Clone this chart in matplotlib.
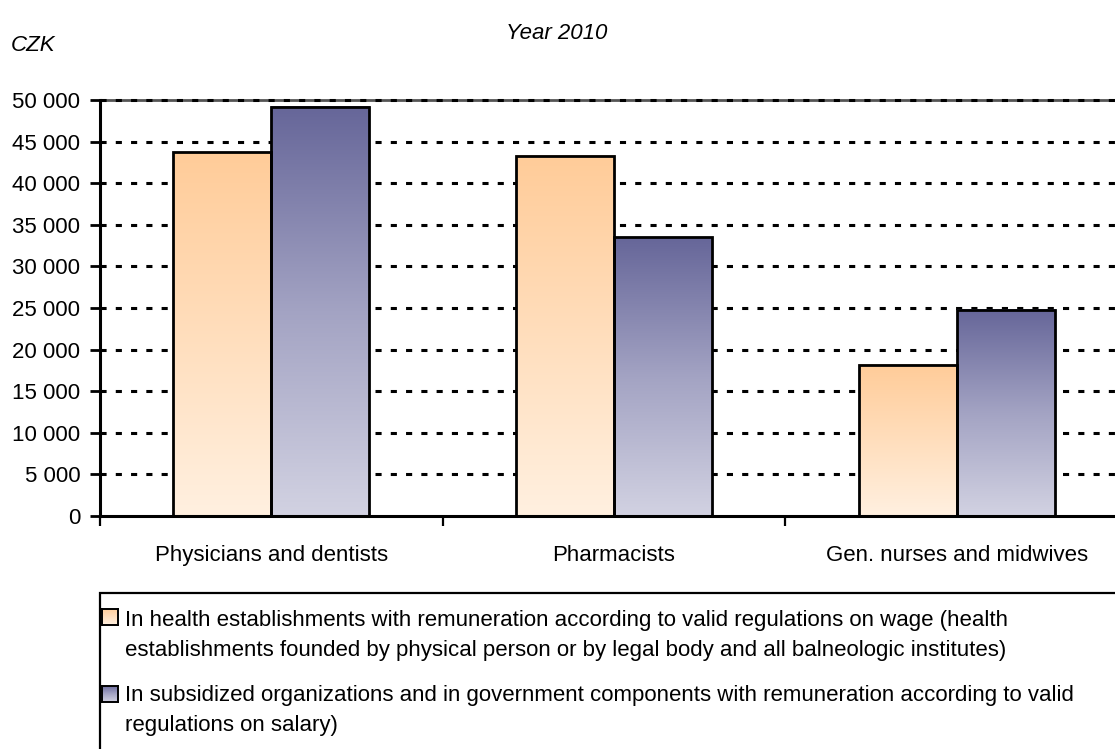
import numpy as np
import matplotlib
matplotlib.use("Agg")
import matplotlib.pyplot as plt
from matplotlib import font_manager
from matplotlib.colors import LinearSegmentedColormap
from matplotlib.patches import Rectangle

# the reference text is Arial stretched vertically; a narrow face at a larger size mimics it
names = {f.name for f in font_manager.fontManager.ttflist}
if "Liberation Sans Narrow" in names:
    plt.rcParams['font.family'] = ['Liberation Sans Narrow', 'DejaVu Sans']
    FS = 19.5
else:
    plt.rcParams['font.family'] = ['Liberation Sans', 'DejaVu Sans']
    FS = 16

# --- data ---
categories = ["Physicians and dentists", "Pharmacists", "Gen. nurses and midwives"]
wage_values = [43750, 43300, 18150]      # health establishments (wage regulations)
salary_values = [49200, 33500, 24800]    # subsidized orgs / government (salary regulations)
y_ticks = [0, 5000, 10000, 15000, 20000, 25000, 30000, 35000, 40000, 45000, 50000]
y_tick_labels = ["0", "5 000", "10 000", "15 000", "20 000", "25 000",
                 "30 000", "35 000", "40 000", "45 000", "50 000"]
legend_labels = [
    "In health establishments with remuneration according to valid regulations on wage (health\n"
    "establishments founded by physical person or by legal body and all balneologic institutes)",
    "In subsidized organizations and in government components with remuneration according to valid\n"
    "regulations on salary)",
]
title = "Year 2010"
unit = "CZK"

# --- styling ---
W, H = 1115, 749
orange_cmap = LinearSegmentedColormap.from_list("orange", ["#FFF0E0", "#FFCC99"])
purple_cmap = LinearSegmentedColormap.from_list("purple", ["#D2D2E2", "#A3A3C3", "#666699"])
grad = np.linspace(0, 1, 256).reshape(-1, 1)

fig = plt.figure(figsize=(W / 100, H / 100), dpi=100)
ax = fig.add_axes([100 / W, 1 - 516 / H, 1028 / W, 416 / H])

x = np.arange(len(categories))
bw = 0.286
bars_w = ax.bar(x - bw / 2, wage_values, bw, facecolor="none", edgecolor="black", lw=2, zorder=4)
bars_s = ax.bar(x + bw / 2, salary_values, bw, facecolor="none", edgecolor="black", lw=2, zorder=4)

for bars, cmap in [(bars_w, orange_cmap), (bars_s, purple_cmap)]:
    for p in bars:
        x0, h, w = p.get_x(), p.get_height(), p.get_width()
        ax.imshow(grad, extent=[x0, x0 + w, 0, h], origin="lower", aspect="auto",
                  cmap=cmap, zorder=3, interpolation="bilinear")

ax.set_xlim(-0.5, len(categories) - 0.5)
ax.set_ylim(0, 50000)

# grid lines
for yv in y_ticks[1:-1]:
    ax.axhline(yv, color="black", lw=2.2, ls=(0, (2, 3)), zorder=1)
ax.axhline(50000, color="#555555", lw=2.0, zorder=1, clip_on=False)
ax.axhline(50000, color="black", lw=2.2, ls=(0, (2, 3)), zorder=2, clip_on=False)

for s in ["top", "right"]:
    ax.spines[s].set_visible(False)
for s in ["left", "bottom"]:
    ax.spines[s].set_linewidth(2.2)
    ax.spines[s].set_zorder(5)

ax.set_yticks(y_ticks, y_tick_labels)
ax.tick_params(axis="y", length=7.2, width=2, pad=7, labelsize=FS)

ax.set_xticks(np.arange(len(categories) + 1) - 0.5, [""] * (len(categories) + 1))
ax.set_xticks(x, categories, minor=True)
ax.tick_params(axis="x", which="major", length=7, width=1.6)
ax.tick_params(axis="x", which="minor", length=0, pad=21, labelsize=FS)

# title and unit
fig.text(557 / W, 1 - 39 / H, title, ha="center", va="baseline", fontsize=FS, style="italic")
fig.text(11 / W, 1 - 51 / H, unit, ha="left", va="baseline", fontsize=FS, style="italic")

# legend box (runs past right and bottom edges like the reference)
fig.add_artist(Rectangle((100 / W, -0.2), 1.0, 1 - 593 / H + 0.2, transform=fig.transFigure,
                         fill=False, ec="black", lw=1.6))

square_centres = [617, 694]
baselines = [(626, 656), (701, 731)]
for label, cmap, yc, bls in zip(legend_labels, [orange_cmap, purple_cmap], square_centres, baselines):
    sq = fig.add_axes([102 / W, 1 - (yc + 8) / H, 16 / W, 16 / H])
    sq.imshow(grad, origin="lower", aspect="auto", cmap=cmap)
    sq.set_xticks([])
    sq.set_yticks([])
    for s in sq.spines.values():
        s.set_linewidth(1.4)
    for line, bl in zip(label.split("\n"), bls):
        fig.text(125 / W, 1 - bl / H, line, ha="left", va="baseline", fontsize=FS)

fig.savefig("out.png", dpi=100)
